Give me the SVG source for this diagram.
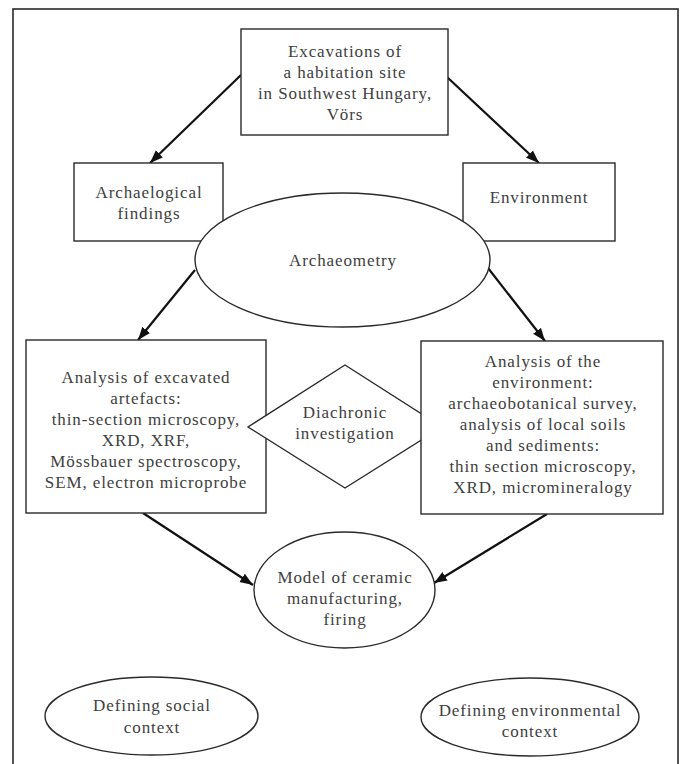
<svg xmlns="http://www.w3.org/2000/svg" width="686" height="764" viewBox="0 0 686 764">
<style>
.bg{fill:#ffffff}
.frame{fill:none;stroke:#2a2a2a;stroke-width:1.6}
.shape{fill:#ffffff;stroke:#2a2a2a;stroke-width:1.4}
.conn{stroke:#111111;stroke-width:2.2;fill:none}
text{font-family:"Liberation Serif","Times New Roman",serif;font-size:17px;fill:#404040;text-anchor:middle;letter-spacing:0.9px}
</style>
<defs>
<marker id="arr" markerUnits="userSpaceOnUse" markerWidth="14" markerHeight="12" refX="13" refY="6" orient="auto">
<path d="M0,1 L13,6 L0,11 Z" fill="#111111"/>
</marker>
</defs>
<rect class="bg" x="0" y="0" width="686" height="764"/>
<rect class="frame" x="13" y="9" width="665" height="780"/>
<g id="connectors">
<line class="conn" x1="241" y1="75" x2="150" y2="163" marker-end="url(#arr)"/>
<line class="conn" x1="447" y1="77" x2="539" y2="163" marker-end="url(#arr)"/>
<line class="conn" x1="195" y1="270" x2="138" y2="340" marker-end="url(#arr)"/>
<line class="conn" x1="488" y1="268" x2="545" y2="341" marker-end="url(#arr)"/>
<line class="conn" x1="143" y1="513" x2="253" y2="585" marker-end="url(#arr)"/>
<line class="conn" x1="547" y1="514" x2="434" y2="583" marker-end="url(#arr)"/>
</g>
<g id="excavations">
<rect class="shape" x="241" y="29" width="207" height="106"/>
<text x="345" y="57">Excavations of</text>
<text x="345" y="78">a habitation site</text>
<text x="345" y="99">in Southwest Hungary,</text>
<text x="345" y="120">Vörs</text>
</g>
<g id="findings">
<rect class="shape" x="74" y="163" width="149" height="78"/>
<text x="149" y="198">Archaelogical</text>
<text x="149" y="219">findings</text>
</g>
<g id="environment">
<rect class="shape" x="463" y="163" width="152" height="78"/>
<text x="539" y="203">Environment</text>
</g>
<g id="archaeometry">
<ellipse class="shape" cx="342.5" cy="260" rx="147.5" ry="67"/>
<text x="343" y="266">Archaeometry</text>
</g>
<g id="artefacts">
<rect class="shape" x="26" y="340" width="240" height="173"/>
<text x="146" y="383">Analysis of excavated</text>
<text x="146" y="404">artefacts:</text>
<text x="146" y="425">thin-section microscopy,</text>
<text x="146" y="446">XRD, XRF,</text>
<text x="146" y="467">Mössbauer spectroscopy,</text>
<text x="146" y="488">SEM, electron microprobe</text>
</g>
<g id="diachronic">
<polygon class="shape" points="345,365 442,427 345,488 248,427"/>
<text x="345" y="418">Diachronic</text>
<text x="345" y="439">investigation</text>
</g>
<g id="analysis-env">
<rect class="shape" x="421" y="341" width="242" height="173"/>
<text x="543" y="367">Analysis of the</text>
<text x="543" y="388">environment:</text>
<text x="543" y="409">archaeobotanical survey,</text>
<text x="543" y="430">analysis of local soils</text>
<text x="543" y="451">and sediments:</text>
<text x="543" y="472">thin section microscopy,</text>
<text x="543" y="493">XRD, micromineralogy</text>
</g>
<g id="model">
<ellipse class="shape" cx="344.5" cy="590" rx="90.5" ry="58"/>
<text x="345" y="583">Model of ceramic</text>
<text x="345" y="604">manufacturing,</text>
<text x="345" y="625">firing</text>
</g>
<g id="social">
<ellipse class="shape" cx="151.5" cy="716" rx="106.5" ry="39"/>
<text x="152" y="711">Defining social</text>
<text x="152" y="733">context</text>
</g>
<g id="env-context">
<ellipse class="shape" cx="530" cy="717" rx="109" ry="39"/>
<text x="530" y="716">Defining environmental</text>
<text x="530" y="737">context</text>
</g>
</svg>
